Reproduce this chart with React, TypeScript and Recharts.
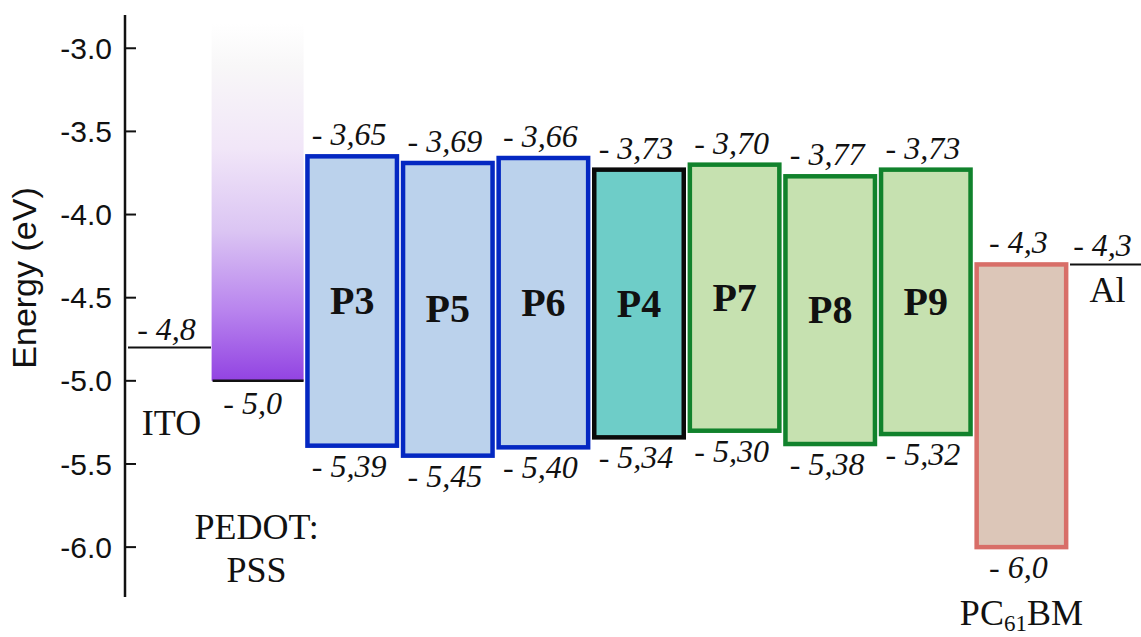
import { Bar, BarChart, XAxis, YAxis } from 'recharts'

// energy levels (eV)
const layers = ['ITO', 'PEDOT:PSS', 'P3', 'P5', 'P6', 'P4', 'P7', 'P8', 'P9', 'PC61BM', 'Al']
const upperLevel = [-4.8, -2.85, -3.65, -3.69, -3.66, -3.73, -3.7, -3.77, -3.73, -4.3, -4.3]
const lowerLevel = [-4.8, -5.0, -5.39, -5.45, -5.4, -5.34, -5.3, -5.38, -5.32, -6.0, -4.3]
const levelDigits = [1, 1, 2, 2, 2, 2, 2, 2, 2, 1, 1]
const yTicks = [-6.0, -5.5, -5.0, -4.5, -4.0, -3.5, -3.0]

const data = layers.map((name, i) => ({
  name,
  range: [lowerLevel[i], upperLevel[i]],
  upper: upperLevel[i],
  lower: lowerLevel[i],
  digits: levelDigits[i],
}))

const CHART_W = 1141
const CHART_H = 637
const PLOT_LEFT = 125

const SERIF = '"Liberation Serif", "Times New Roman", serif'
const SANS = '"Liberation Sans", Arial, sans-serif'
const INK = '#111'

const blue = { fill: '#bbd2ec', stroke: '#0428c2' }
const teal = { fill: '#6ecdc8', stroke: '#0a0a0a' }
const green = { fill: '#c6e1b0', stroke: '#11822c' }
const boxStyles: Record<string, { fill: string; stroke: string }> = {
  P3: blue,
  P5: blue,
  P6: blue,
  P4: teal,
  P7: green,
  P8: green,
  P9: green,
  PC61BM: { fill: '#dcc6b8', stroke: '#d86e68' },
}

const fmt = (v: number, d: number) => `- ${Math.abs(v).toFixed(d).replace('.', ',')}`

function ValueText({ x, y, children }: { x: number; y: number; children: string }) {
  return (
    <text x={x} y={y} textAnchor="middle" fontFamily={SERIF} fontStyle="italic" fontSize={32} fill={INK}>
      {children}
    </text>
  )
}

function NameText({ x, y, children }: { x: number; y: number; children: React.ReactNode }) {
  return (
    <text x={x} y={y} textAnchor="middle" fontFamily={SERIF} fontSize={36} fill={INK}>
      {children}
    </text>
  )
}

function LayerShape(props: any) {
  const { x, y, width, height, payload } = props
  const { name, upper, lower, digits } = payload
  const top = Math.min(y, y + height)
  const bottom = Math.max(y, y + height)
  const cx = x + width / 2

  if (name === 'ITO' || name === 'Al') {
    const x1 = Math.max(x, PLOT_LEFT + 3)
    const x2 = Math.min(x + width + 3, CHART_W)
    const mid = (x1 + x2) / 2
    return (
      <g>
        <line x1={x1} x2={x2} y1={top} y2={top} stroke={INK} strokeWidth={2} />
        <ValueText x={mid - 3} y={top - 8}>{fmt(upper, digits)}</ValueText>
        <NameText x={mid + 2} y={name === 'ITO' ? top + 87 : top + 38}>{name}</NameText>
      </g>
    )
  }

  if (name === 'PEDOT:PSS') {
    return (
      <g>
        <defs>
          <linearGradient id="pedotFill" x1="0" y1="0" x2="0" y2="1">
            <stop offset="0%" stopColor="#ffffff" />
            <stop offset="12%" stopColor="#f8f7f8" />
            <stop offset="35%" stopColor="#f1e6f8" />
            <stop offset="58%" stopColor="#dbc5f3" />
            <stop offset="80%" stopColor="#b985ee" />
            <stop offset="100%" stopColor="#9243e2" />
          </linearGradient>
        </defs>
        <rect x={x + 2} y={top} width={width - 2} height={bottom - top} fill="url(#pedotFill)" />
        <line x1={x + 3} x2={x + width} y1={bottom} y2={bottom} stroke={INK} strokeWidth={2.5} />
        <ValueText x={cx - 4} y={bottom + 33}>{fmt(lower, digits)}</ValueText>
        <NameText x={cx} y={bottom + 158}>PEDOT:</NameText>
        <NameText x={cx} y={bottom + 201}>PSS</NameText>
      </g>
    )
  }

  const style = boxStyles[name]
  const sw = 4.5
  const isAcceptor = name === 'PC61BM'
  return (
    <g>
      <rect
        x={x + sw / 2}
        y={top}
        width={width - sw}
        height={bottom - top}
        fill={style.fill}
        stroke={style.stroke}
        strokeWidth={sw}
      />
      <ValueText x={cx - 3} y={top - 11}>{fmt(upper, digits)}</ValueText>
      <ValueText x={cx - 3} y={bottom + 31}>{fmt(lower, digits)}</ValueText>
      {isAcceptor ? (
        <NameText x={cx} y={bottom + 78}>
          PC<tspan fontSize={23} dy={6}>61</tspan>
          <tspan dy={-6}>BM</tspan>
        </NameText>
      ) : (
        <text
          x={cx}
          y={(top + bottom) / 2 + 13}
          textAnchor="middle"
          fontFamily={SERIF}
          fontWeight="bold"
          fontSize={40}
          fill={INK}
        >
          {name}
        </text>
      )}
    </g>
  )
}

function EnergyLabel(props: any) {
  const vb = props.viewBox || { x: 0, y: 15, width: PLOT_LEFT, height: 582 }
  const lx = vb.x + 36
  const ly = vb.y + vb.height / 2 - 28
  return (
    <text
      x={lx}
      y={ly}
      transform={`rotate(-90, ${lx}, ${ly})`}
      textAnchor="middle"
      fontFamily={SANS}
      fontSize={34}
      fill={INK}
    >
      Energy (eV)
    </text>
  )
}

export default function App() {
  return (
    <div style={{ position: 'absolute', left: 0, top: 0, background: '#fff' }}>
      <BarChart
        width={CHART_W}
        height={CHART_H}
        data={data}
        margin={{ top: 15, right: 0, bottom: 40, left: 0 }}
        barCategoryGap={1}
      >
        <XAxis dataKey="name" hide padding={{ left: -12, right: -23.6 }} />
        <YAxis
          type="number"
          domain={[-6.3, -2.8]}
          ticks={yTicks}
          width={PLOT_LEFT}
          tickFormatter={(v: number) => v.toFixed(1)}
          tick={{ fontFamily: SANS, fontSize: 30, fill: INK }}
          tickSize={-11}
          tickMargin={24}
          axisLine={{ stroke: INK, strokeWidth: 2.5 }}
          tickLine={{ stroke: INK, strokeWidth: 2 }}
          label={{ content: (p: any) => <EnergyLabel {...p} /> }}
        />
        <Bar dataKey="range" shape={(p: any) => <LayerShape {...p} />} isAnimationActive={false} />
      </BarChart>
    </div>
  )
}
